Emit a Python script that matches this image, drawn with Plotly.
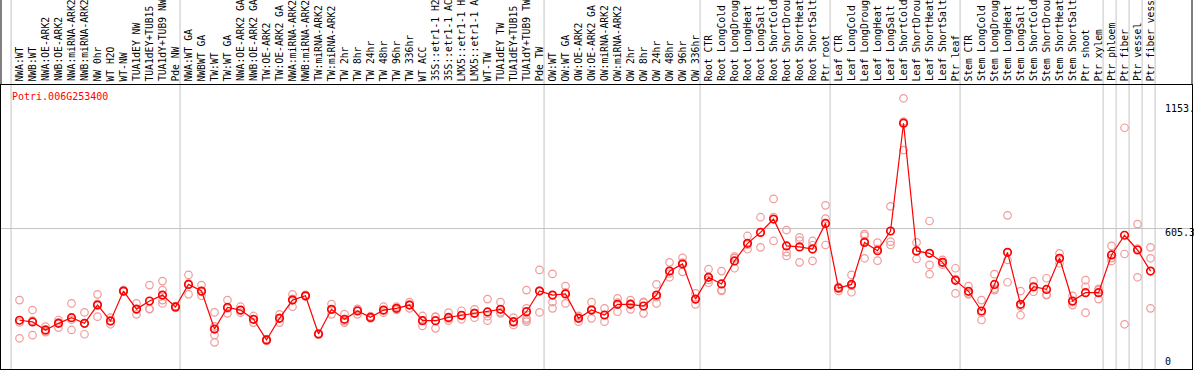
import plotly.graph_objects as go

gene = "Potri.006G253400"

labels = [
    "NWA:WT", "NWB:WT", "NWA:OE-ARK2", "NWB:OE-ARK2", "NWA:miRNA-ARK2", "NWB:miRNA-ARK2",
    "NW 0hr", "WT H2O", "WT-NW", "TUA1dEY NW", "TUA1dEY+TUB15 NW", "TUA1dY+TUB9 NW", "Pde NW",
    "NWA:WT GA", "NWBWT GA", "TW:WT", "TW:WT GA", "NWA:OE-ARK2 GA", "NWB:OE-ARK2 GA",
    "TW:OE-ARK2", "TW:OE-ARK2 GA", "NWA:miRNA-ARK2 GA", "NWB:miRNA-ARK2 GA", "TW:miRNA-ARK2",
    "TW:miRNA-ARK2 GA", "TW 2hr", "TW 8hr", "TW 24hr", "TW 48hr", "TW 96hr", "TW 336hr", "WT ACC",
    "35S::etr1-1 H2O", "35S::etr1-1 ACC", "LMX5::etr1-1 H2O", "LMX5::etr1-1 ACC", "WT-TW",
    "TUA1dEY TW", "TUA1dEY+TUB15 TW", "TUA1dY+TUB9 TW", "Pde TW",
    "OW:WT", "OW:WT GA", "OW:OE-ARK2", "OW:OE-ARK2 GA", "OW:miRNA-ARK2", "OW:miRNA-ARK2 GA",
    "OW 2hr", "OW 8hr", "OW 24hr", "OW 48hr", "OW 96hr", "OW 336hr",
    "Root CTR", "Root LongCold", "Root LongDrought", "Root LongHeat", "Root LongSalt",
    "Root ShortCold", "Root ShortDrought", "Root ShortHeat", "Root ShortSalt", "Ptr root",
    "Leaf CTR", "Leaf LongCold", "Leaf LongDrought", "Leaf LongHeat", "Leaf LongSalt",
    "Leaf ShortCold", "Leaf ShortDrought", "Leaf ShortHeat", "Leaf ShortSalt", "Ptr leaf",
    "Stem CTR", "Stem LongCold", "Stem LongDrought", "Stem LongHeat", "Stem LongSalt",
    "Stem ShortCold", "Stem ShortDrought", "Stem ShortHeat", "Stem ShortSalt", "Ptr shoot",
    "Ptr xylem", "Ptr phloem", "Ptr fiber", "Ptr vessel", "Ptr fiber vessel",
]

means = [
    218, 211, 177, 205, 229, 205, 282, 215, 341, 265, 299, 324, 274,
    369, 341, 181, 272, 261, 222, 135, 226, 303, 321, 160, 264, 222, 257, 230, 261, 268,
    282, 216, 216, 230, 239, 247, 253, 264, 212, 254, 341,
    324, 329, 226, 261, 240, 285, 285, 278, 324, 425, 455, 307,
    399, 371, 468, 542, 588, 644, 531, 527, 518, 626,
    353, 369, 546, 511, 594, 1048, 510, 500, 462, 386,
    340, 257, 369, 504, 285, 359, 348, 479, 299, 334, 334,
    493, 576, 514, 425,
]

replicates = [
    [303, 142, 209], [261, 155, 216], [191, 172, 168], [219, 187, 209], [289, 177, 220],
    [251, 159, 205], [327, 233, 287], [229, 201, 214], [345, 338, 341], [289, 243, 264],
    [366, 265, 266], [383, 345, 289, 303], [278, 270, 273],
    [409, 327, 372], [366, 321, 337], [251, 156, 125, 192], [303, 247, 268], [275, 250, 259],
    [236, 208, 222], [139, 131, 135], [243, 208, 228], [327, 275, 308], [325, 318, 321],
    [163, 157, 160], [286, 243, 263], [244, 208, 214], [243, 262, 266], [235, 226, 230],
    [275, 250, 259], [275, 262, 268], [294, 268, 284], [236, 194, 218], [233, 184, 231],
    [250, 216, 225], [258, 222, 236], [264, 229, 249], [307, 216, 235], [294, 247, 252],
    [229, 198, 209], [345, 268, 219, 212, 226], [430, 251, 343],
    [413, 294, 268], [362, 289, 335], [236, 212, 230], [294, 226, 264], [268, 212, 240],
    [310, 254, 292], [303, 264, 289], [292, 247, 295], [369, 289, 315], [462, 399, 415],
    [481, 422, 461], [331, 285, 306],
    [433, 376, 388], [425, 345, 342], [486, 437, 480], [573, 517, 536], [652, 525, 589],
    [729, 552, 653], [598, 489, 505], [567, 462, 553], [552, 468, 534], [702, 646, 535],
    [359, 341, 358], [409, 336, 363], [581, 574, 479, 551], [545, 469, 519], [698, 549, 535],
    [1153, 935, 1055], [546, 476, 507], [636, 451, 412], [472, 462, 452], [437, 331, 391],
    [362, 327, 331], [303, 219, 249], [412, 345, 351], [660, 378, 472], [341, 239, 276],
    [383, 338, 357], [395, 324, 326], [500, 458, 479], [321, 282, 294], [387, 359, 250],
    [350, 307, 345],
    [531, 468, 480], [1029, 497, 201], [623, 399, 520], [525, 479, 268],
]

group_ends = [12, 40, 52, 62, 72, 83, 84, 85, 86, 87]
grid_value = 605.3
tick_texts = ["1153.", "605.3", "0"]

FONT = "DejaVu Sans Mono"
GRAY = "#c4c4c4"
PINK = "#f09a9a"

xs = list(range(len(labels)))
rep_x, rep_y = [], []
for i, vals in enumerate(replicates):
    for v in vals:
        rep_x.append(i)
        rep_y.append(v)

fig = go.Figure()
fig.add_trace(go.Scatter(
    x=rep_x, y=rep_y, mode="markers",
    marker=dict(symbol="circle-open", size=7.5, color=PINK, line=dict(width=1.2, color=PINK)),
    hoverinfo="skip", showlegend=False, cliponaxis=True,
))
fig.add_trace(go.Scatter(
    x=xs, y=means, mode="lines+markers",
    line=dict(color="#ff0000", width=1.2),
    marker=dict(symbol="circle-open", size=7.5, color="#ff0000", line=dict(width=1.7, color="#ff0000")),
    showlegend=False, cliponaxis=True,
))

shapes = []
for g in [-1] + group_ends:
    xv = g + 0.35
    shapes.append(dict(type="line", xref="x", yref="paper", x0=xv, x1=xv, y0=0, y1=1.31,
                       line=dict(color=GRAY, width=1), layer="below"))
# label-area frame (left/right)
shapes.append(dict(type="line", xref="paper", yref="paper", x0=0, x1=0, y0=1, y1=1.31,
                   line=dict(color="black", width=1)))
shapes.append(dict(type="line", xref="paper", yref="paper", x0=1, x1=1, y0=1, y1=1.31,
                   line=dict(color="black", width=1)))

annotations = []
for i, lab in enumerate(labels):
    annotations.append(dict(
        x=i, y=1.005, xref="x", yref="paper", text=lab, textangle=-90,
        xanchor="center", yanchor="bottom", showarrow=False,
        font=dict(family=FONT, size=9.7, color="black"),
    ))
annotations.append(dict(
    x=-0.73, y=0.958, xref="x", yref="paper", text=gene, xanchor="left", yanchor="middle",
    showarrow=False, font=dict(family=FONT, size=10, color="#ff0000"),
))
tick_pos = [(108, tick_texts[0]), (232.7, tick_texts[1]), (361.7, tick_texts[2])]
for py, t in tick_pos:
    annotations.append(dict(
        x=87.96, y=(369 - py) / 284, xref="x", yref="paper", text=t, xanchor="left",
        yanchor="middle", showarrow=False, font=dict(family=FONT, size=10, color="black"),
    ))

fig.update_layout(
    width=1194, height=370,
    margin=dict(l=1, r=2, t=85, b=1, pad=0),
    paper_bgcolor="white", plot_bgcolor="white",
    xaxis=dict(range=[-1.423, 90.19], showgrid=False, zeroline=False, showticklabels=False,
               ticks="", showline=True, mirror=True, linecolor="black", linewidth=1),
    yaxis=dict(range=[12.6, 1209], tickvals=[grid_value], showgrid=True, gridcolor=GRAY,
               gridwidth=1, zeroline=False, showticklabels=False, ticks="",
               showline=True, mirror=True, linecolor="black", linewidth=1),
    shapes=shapes, annotations=annotations, font=dict(family=FONT, size=10),
)

fig.write_html(
    "out.html",
    config={"displayModeBar": False},
    post_script="document.body.style.margin='0';document.body.style.overflow='hidden';",
)
